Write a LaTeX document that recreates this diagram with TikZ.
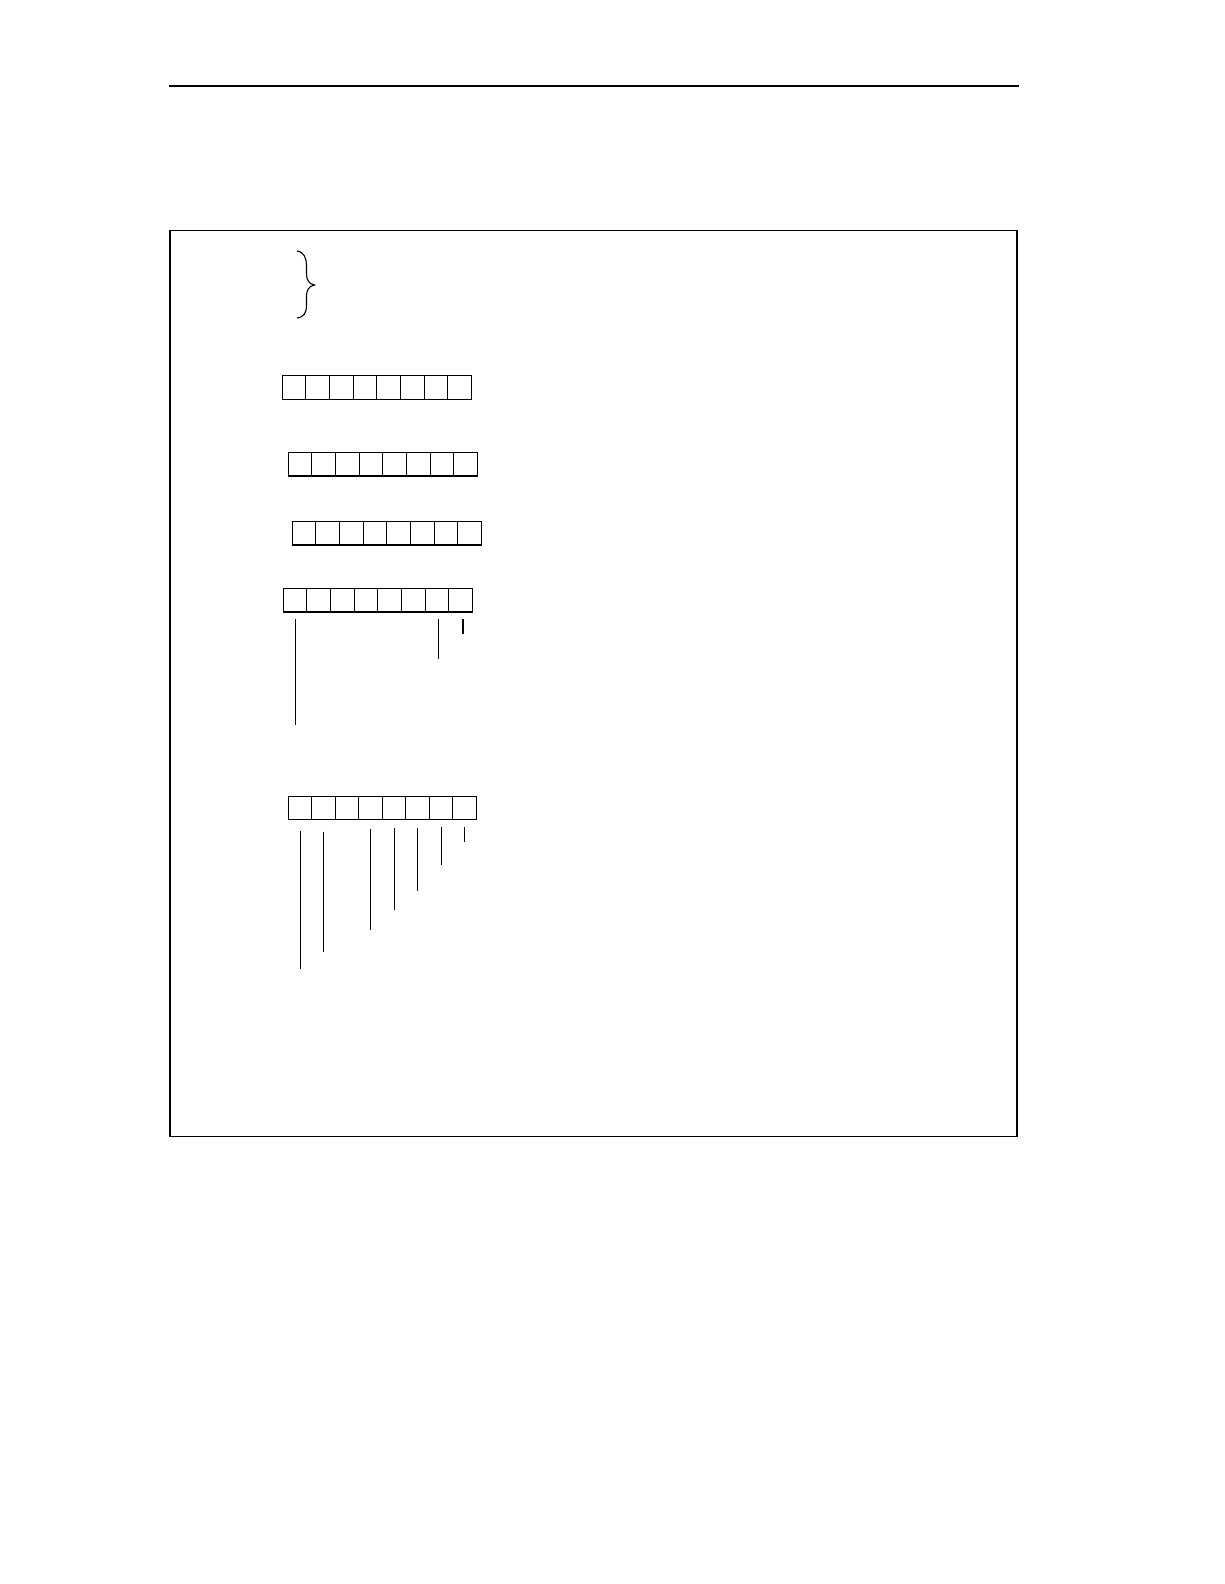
\documentclass[tikz,border=0pt]{standalone}
\begin{document}
\begin{tikzpicture}[x=1pt,y=-1pt,
  cell/.style={draw,line width=1.1pt,minimum width=23.625pt,minimum height=23.4pt,inner sep=0pt,outer sep=0pt,anchor=north west},
  stem/.style={line width=1.1pt},
  frameline/.style={line width=1.4pt}]
\useasboundingbox (0,0) rectangle (1224,1584);
% header rule and frame
\coordinate (hl) at (169,86);
\coordinate (hr) at (1019,86);
\draw[line width=1.1pt] (hl) -- (hr);
\node[draw,frameline,inner sep=0pt,anchor=north west,minimum width=847pt,minimum height=906pt] (frame) at (169.3,230) {};
% brace
\draw[line width=1.1pt] (297,251) .. controls (304,252) and (306.5,258) .. (306.5,266) -- (306.5,274)
  .. controls (306.5,280) and (309,284) .. (314.5,285)
  .. controls (309,286) and (306.5,290) .. (306.5,296) -- (306.5,305)
  .. controls (306.5,313) and (304,317) .. (297,318);
% rows of cells
\foreach \i in {1,...,8} {
  \node[cell] (r1c\i) at ({282.3+(\i-1)*23.625},375.7) {};
  \node[cell] (r2c\i) at ({288.3+(\i-1)*23.625},452.6) {};
  \node[cell] (r3c\i) at ({292.3+(\i-1)*23.625},521.6) {};
  \node[cell] (r4c\i) at ({283.3+(\i-1)*23.625},588.6) {};
  \node[cell,minimum width=23.5pt] (r5c\i) at ({288.3+(\i-1)*23.5},796.3) {};
}
% stems below row 4
\coordinate (e41) at ([yshift=-113pt]r4c1.south);
\coordinate (e47) at ([yshift=-47pt,xshift=1.5pt]r4c7.south);
\coordinate (e48) at ([yshift=-22pt,xshift=2.5pt]r4c8.south);
\draw[stem] ([yshift=-7pt]r4c1.south) -- (e41);
\draw[stem] ([yshift=-7pt,xshift=1.5pt]r4c7.south) -- (e47);
\draw[stem] ([yshift=-7pt,xshift=2.5pt]r4c8.south) -- (e48);
% stems below row 5
\coordinate (e51) at ([yshift=-149pt]r5c1.south);
\coordinate (e52) at ([yshift=-132pt]r5c2.south);
\coordinate (e54) at ([yshift=-110pt]r5c4.south);
\coordinate (e55) at ([yshift=-90pt]r5c5.south);
\coordinate (e56) at ([yshift=-71pt]r5c6.south);
\coordinate (e57) at ([yshift=-45pt]r5c7.south);
\coordinate (e58) at ([yshift=-22pt]r5c8.south);
\draw[stem] ([yshift=-11pt]r5c1.south) -- (e51);
\draw[stem] ([yshift=-12pt]r5c2.south) -- (e52);
\draw[stem] ([yshift=-9pt]r5c4.south) -- (e54);
\draw[stem] ([yshift=-8pt]r5c5.south) -- (e55);
\draw[stem] ([yshift=-8pt]r5c6.south) -- (e56);
\draw[stem] ([yshift=-7pt]r5c7.south) -- (e57);
\draw[stem] ([yshift=-7pt]r5c8.south) -- (e58);
\end{tikzpicture}
\end{document}
